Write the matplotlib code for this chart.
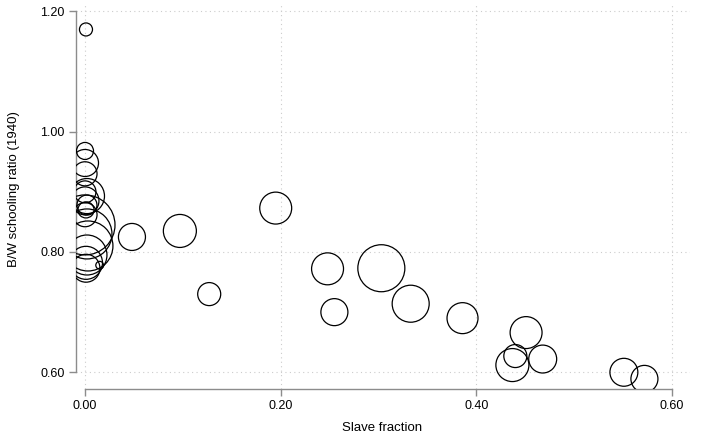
"""Bubble plot: B/W schooling ratio (1940) against slave fraction."""

import matplotlib.pyplot as plt

plt.rcParams["font.family"] = ["Liberation Sans", "DejaVu Sans"]

# Slave fraction, schooling ratio and weights (bubble area) per unit
slave_fraction = [
    0.001, 0.000, 0.000, 0.000, 0.000, 0.002, 0.000, 0.002, 0.001,
    0.000, 0.000, 0.002, 0.003, 0.002, 0.001, 0.001, 0.015,
    0.048, 0.097, 0.127, 0.195, 0.248, 0.255, 0.303, 0.333, 0.386,
    0.451, 0.440, 0.437, 0.468, 0.551, 0.572,
]
schooling_ratio = [
    1.170, 0.968, 0.948, 0.930, 0.900, 0.893, 0.885, 0.878, 0.870,
    0.862, 0.845, 0.830, 0.810, 0.795, 0.782, 0.773, 0.778,
    0.825, 0.835, 0.730, 0.873, 0.772, 0.700, 0.773, 0.714, 0.690,
    0.666, 0.627, 0.612, 0.622, 0.600, 0.589,
]
weight = [
    1.7, 2.9, 7.3, 5.8, 4.8, 12.3, 7.8, 4.0, 2.6,
    5.8, 36.0, 25.0, 25.0, 16.0, 10.9, 7.8, 0.6,
    7.3, 10.9, 5.3, 10.2, 10.2, 7.3, 22.1, 13.7, 9.6,
    10.2, 5.3, 10.9, 7.8, 7.8, 7.3,
]

x_ticks = [0.0, 0.2, 0.4, 0.6]
y_ticks = [0.6, 0.8, 1.0, 1.2]

fig = plt.figure(figsize=(7.02, 4.38), dpi=100)
ax = fig.add_axes([76 / 702, 1 - 389 / 438, 614 / 702, 386 / 438])

ax.scatter(
    slave_fraction,
    schooling_ratio,
    s=[w * 51.84 for w in weight],
    facecolors="none",
    edgecolors="black",
    linewidths=0.9,
    zorder=3,
)

ax.set_xlim(-0.0092, 0.6186)
ax.set_ylim(0.5722, 1.214)
ax.set_xticks(x_ticks)
ax.set_yticks(y_ticks)
ax.set_xticklabels([f"{t:.2f}" for t in x_ticks])
ax.set_yticklabels([f"{t:.2f}" for t in y_ticks])

ax.grid(True, color="#cccccc", linestyle=(0, (1, 3)), linewidth=0.8, zorder=0)

for side in ("top", "right"):
    ax.spines[side].set_visible(False)
for side in ("left", "bottom"):
    ax.spines[side].set_color("#8c8c8c")
    ax.spines[side].set_linewidth(1.0)
ax.spines["left"].set_bounds(0.6, 1.2)
ax.spines["bottom"].set_bounds(0.0, 0.6)

ax.tick_params(axis="both", direction="out", length=5, width=1.0,
               color="#8c8c8c", labelsize=9, labelcolor="black", pad=3)

ax.set_xlabel("Slave fraction", fontsize=9.5)
ax.set_ylabel("B/W schooling ratio (1940)", fontsize=9.5)
ax.xaxis.set_label_coords(0.498, -0.085)
ax.yaxis.set_label_coords(-0.092, 0.517)

fig.savefig("out.png", dpi=100)
